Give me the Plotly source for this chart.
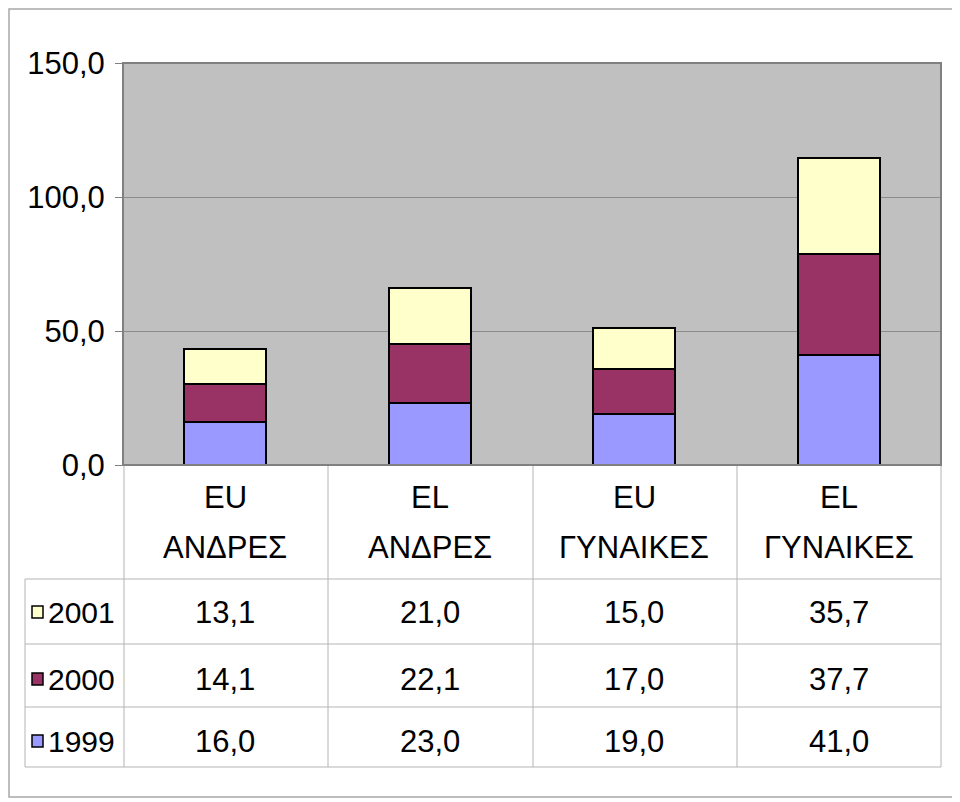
import plotly.graph_objects as go

categories = ["EU<br>ΑΝΔΡΕΣ", "EL<br>ΑΝΔΡΕΣ", "EU<br>ΓΥΝΑΙΚΕΣ", "EL<br>ΓΥΝΑΙΚΕΣ"]
years = ["1999", "2000", "2001"]
v1999 = [16.0, 23.0, 19.0, 41.0]
v2000 = [14.1, 22.1, 17.0, 37.7]
v2001 = [13.1, 21.0, 15.0, 35.7]
colors = {"1999": "#9999FF", "2000": "#993366", "2001": "#FFFFCC"}
values = {"1999": v1999, "2000": v2000, "2001": v2001}

FONT = "Liberation Sans Narrow, Arial Narrow, Liberation Sans, Arial"
FS = 31
OFF = 8   # page body margin
W, H = 960 - OFF, 802 - OFF
L, R, T, B = 123, 941, 63, 465   # plot area in screen pixels

def px(x):
    return (x - L) / (R - L)

def py(y):
    return (B - y) / (B - T)

fig = go.Figure()
for yr in years:
    fig.add_trace(go.Bar(
        name=yr, x=categories, y=values[yr],
        marker=dict(color=colors[yr], line=dict(color="black", width=2)),
        width=0.4, showlegend=False,
    ))

shapes = []
# outer frame (page starts at OFF, so the left/top edges sit on the figure edge)
shapes.append(dict(type="rect", xref="paper", yref="paper", x0=px(OFF + 1), x1=px(957), y0=py(OFF + 1), y1=py(797),
                   line=dict(color="#a8a8a8", width=1.5), layer="below"))
# data table grid
grid = dict(color="#b4b4b4", width=1)
for xl in [124, 328, 533, 737, 941]:
    shapes.append(dict(type="line", xref="paper", yref="paper", x0=px(xl), x1=px(xl), y0=py(465), y1=py(767), line=grid))
for yl in [579, 644, 707, 767]:
    shapes.append(dict(type="line", xref="paper", yref="paper", x0=px(25), x1=px(941), y0=py(yl), y1=py(yl), line=grid))
shapes.append(dict(type="line", xref="paper", yref="paper", x0=px(25), x1=px(25), y0=py(579), y1=py(767), line=grid))
# plot area border
shapes.append(dict(type="rect", xref="paper", yref="paper", x0=0, x1=1, y0=0, y1=1,
                   line=dict(color="#808080", width=2)))

annotations = []
for c in categories:
    top, bottom = c.split("<br>")
    for txt, yy in [(top, 497), (bottom, 547)]:
        annotations.append(dict(x=c, xref="x", y=py(yy), yref="paper", yanchor="middle",
                                text=txt, showarrow=False,
                                font=dict(family=FONT, size=FS, color="black")))
row_y = {"2001": 612, "2000": 679, "1999": 741}
for yr in years:
    for c, v in zip(categories, values[yr]):
        annotations.append(dict(x=c, xref="x", y=py(row_y[yr]), yref="paper", yanchor="middle",
                                text=f"{v:.1f}".replace(".", ","), showarrow=False,
                                font=dict(family=FONT, size=FS, color="black")))
    annotations.append(dict(x=px(46), xref="paper", xanchor="left", y=py(row_y[yr]), yref="paper",
                            yanchor="middle", text=yr, showarrow=False,
                            font=dict(family=FONT, size=30, color="black")))
    shapes.append(dict(type="rect", xref="paper", yref="paper", x0=px(32), x1=px(43),
                       y0=py(row_y[yr] - 6), y1=py(row_y[yr] + 6),
                       fillcolor=colors[yr], line=dict(color="black", width=1.5)))

fig.update_layout(
    barmode="stack",
    width=W, height=H,
    margin=dict(l=L - OFF, r=960 - R, t=T - OFF, b=802 - B, pad=0),
    paper_bgcolor="white", plot_bgcolor="#C0C0C0",
    separators=",.",
    font=dict(family=FONT, size=FS, color="black"),
    shapes=shapes, annotations=annotations,
    xaxis=dict(showticklabels=False, showgrid=False, zeroline=False, ticks="",
               showline=False),
    yaxis=dict(range=[0, 150], tickvals=[0, 50, 100, 150], tickformat=".1f",
               showgrid=True, gridcolor="#8c8c8c", gridwidth=1, zeroline=False,
               ticks="outside", ticklen=7, tickcolor="#808080", showline=False,
               ticklabelstandoff=4,
               tickfont=dict(family=FONT, size=FS, color="black")),
)

fig.write_html("out.html")
